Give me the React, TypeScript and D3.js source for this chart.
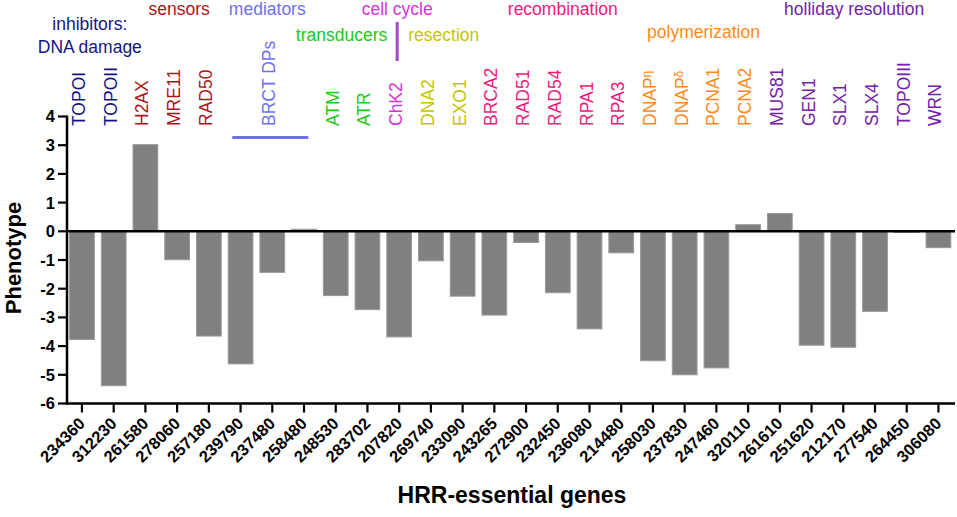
import * as d3 from "d3";

const geneIds = ["234360","312230","261580","278060","257180","239790","237480","258480","248530","283702","207820","269740","233090","243265","272900","232450","236080","214480","258030","237830","247460","320110","261610","251620","212170","277540","264450","306080"];
const geneNames = ["TOPOI","TOPOII","H2AX","MRE11","RAD50","","BRCT DPs","","ATM","ATR","ChK2","DNA2","EXO1","BRCA2","RAD51","RAD54","RPA1","RPA3","DNAPη","DNAPδ","PCNA1","PCNA2","MUS81","GEN1","SLX1","SLX4","TOPOIII","WRN"];
const geneGroups = ["inhibitors","inhibitors","sensors","sensors","sensors","mediators","mediators","mediators","transducers","transducers","cellcycle","resection","resection","recombination","recombination","recombination","recombination","recombination","polymerization","polymerization","polymerization","polymerization","holliday","holliday","holliday","holliday","holliday","holliday"];
const phenotype = [-3.77,-5.38,3.02,-0.99,-3.65,-4.62,-1.43,0.07,-2.24,-2.73,-3.68,-1.03,-2.26,-2.92,-0.39,-2.14,-3.40,-0.75,-4.51,-5.0,-4.76,0.23,0.62,-3.97,-4.04,-2.79,-0.04,-0.57];
const yTicks = [4,3,2,1,0,-1,-2,-3,-4,-5,-6];

const groupKeys = ["inhibitors","sensors","mediators","transducers","cellcycle","resection","recombination","polymerization","holliday"];
const groupTitles: {[k: string]: string[]} = {
  inhibitors: ["inhibitors:", "DNA damage"],
  sensors: ["sensors"],
  mediators: ["mediators"],
  transducers: ["transducers"],
  cellcycle: ["cell cycle"],
  resection: ["resection"],
  recombination: ["recombination"],
  polymerization: ["polymerization"],
  holliday: ["holliday resolution"],
};

const colors: {[k: string]: string} = {
  inhibitors: "#16167e",
  sensors: "#a81616",
  mediators: "#6f6ff0",
  transducers: "#20c820",
  cellcycle: "#d634d6",
  resection: "#c6c400",
  recombination: "#f0187c",
  polymerization: "#ff8a1a",
  holliday: "#7420a8",
};

// title placement relative to group centre (dx) and baseline
const titlePos: {[k: string]: {dx: number, y: number}} = {
  inhibitors: { dx: -8, y: 30 },
  sensors: { dx: 2, y: 15 },
  mediators: { dx: -5, y: 15 },
  transducers: { dx: -10, y: 41 },
  cellcycle: { dx: -2, y: 15 },
  resection: { dx: -3, y: 41 },
  recombination: { dx: 5, y: 15 },
  polymerization: { dx: 3, y: 38 },
  holliday: { dx: -5, y: 15 },
};

const width = 957;
const height = 517;
const font = "'Liberation Sans', Arial, sans-serif";

export default function App() {
  const x = d3.scaleBand()
    .domain(geneIds)
    .range([66.1, 954.3])
    .paddingInner(0.22)
    .paddingOuter(0.11);

  const y = d3.scaleLinear().domain([4, -6]).range([116.5, 403.5]);

  const cx = (i: number) => (x(geneIds[i]) || 0) + x.bandwidth() / 2;
  const axisX = 67;
  const axisRight = 955;

  const groupCenter = (g: string) => {
    const idx = geneGroups.map((gg, i) => (gg === g ? i : -1)).filter((i) => i >= 0);
    return d3.mean(idx.map(cx)) || 0;
  };

  const bi = geneNames.indexOf("BRCT DPs");
  const ci = geneGroups.indexOf("cellcycle");

  return (
    <svg
      width={width}
      height={height}
      style={{ position: "absolute", left: 0, top: 0, background: "#fff" }}
      fontFamily={font}
    >
      {/* bars */}
      {phenotype.map((v, i) => (
        <rect
          key={`bar-${i}`}
          x={x(geneIds[i])}
          y={y(Math.max(0, v))}
          width={x.bandwidth()}
          height={Math.abs(y(v) - y(0))}
          fill="#808080"
          stroke="#9a9a9a"
          strokeWidth={1}
        />
      ))}

      {/* zero line */}
      <line x1={axisX} x2={axisRight} y1={y(0)} y2={y(0)} stroke="#000" strokeWidth={2.6} />

      {/* y axis */}
      <line x1={axisX} x2={axisX} y1={y(4) - 1} y2={y(-6) + 1} stroke="#000" strokeWidth={2.5} />
      {yTicks.map((t) => (
        <g key={`yt-${t}`} transform={`translate(0,${y(t)})`}>
          <line x1={axisX - 9} x2={axisX} stroke="#000" strokeWidth={2.2} />
          <text x={axisX - 12} dy="0.36em" textAnchor="end" fontSize={16.5} fontWeight="bold">
            {t}
          </text>
        </g>
      ))}
      <text
        transform="translate(21,258) rotate(-90)"
        textAnchor="middle"
        fontSize={22}
        fontWeight="bold"
      >
        Phenotype
      </text>

      {/* x axis */}
      <line x1={axisX} x2={axisRight} y1={y(-6)} y2={y(-6)} stroke="#000" strokeWidth={2.6} />
      {geneIds.map((id, i) => (
        <g key={`xt-${id}`}>
          <line x1={cx(i)} x2={cx(i)} y1={y(-6)} y2={y(-6) + 9} stroke="#000" strokeWidth={2.2} />
          <text
            transform={`translate(${cx(i) + 4},${y(-6) + 21}) rotate(-45)`}
            textAnchor="end"
            fontSize={16.5}
            fontWeight="bold"
          >
            {id}
          </text>
        </g>
      ))}
      <text x={512} y={503} textAnchor="middle" fontSize={23} fontWeight="bold">
        HRR-essential genes
      </text>

      {/* gene labels */}
      {geneNames.map((name, i) => {
        if (!name) return null;
        const greek = /[ηδ]$/.test(name);
        return (
          <text
            key={`gn-${i}`}
            transform={`translate(${cx(i) + 3},126) rotate(-90)`}
            fontSize={17.5}
            fill={colors[geneGroups[i]]}
          >
            {greek ? name.slice(0, -1) : name}
            {greek && <tspan fontSize={12} dy={-5}>{name.slice(-1)}</tspan>}
          </text>
        );
      })}

      {/* BRCT bracket */}
      <line
        x1={cx(bi) - 40}
        x2={cx(bi) + 36}
        y1={137.5}
        y2={137.5}
        stroke={colors.mediators}
        strokeWidth={3.2}
      />

      {/* cell cycle marker */}
      <line
        x1={cx(ci) - 2}
        x2={cx(ci) - 2}
        y1={22}
        y2={61}
        stroke="#a646c8"
        strokeWidth={3}
      />

      {/* group titles */}
      {groupKeys.map((g) => (
        <text
          key={`gt-${g}`}
          x={groupCenter(g) + titlePos[g].dx}
          y={titlePos[g].y}
          textAnchor="middle"
          fontSize={17.5}
          fill={colors[g]}
        >
          {groupTitles[g].map((line, k) => (
            <tspan key={k} x={groupCenter(g) + titlePos[g].dx} dy={k === 0 ? 0 : 23}>
              {line}
            </tspan>
          ))}
        </text>
      ))}
    </svg>
  );
}
